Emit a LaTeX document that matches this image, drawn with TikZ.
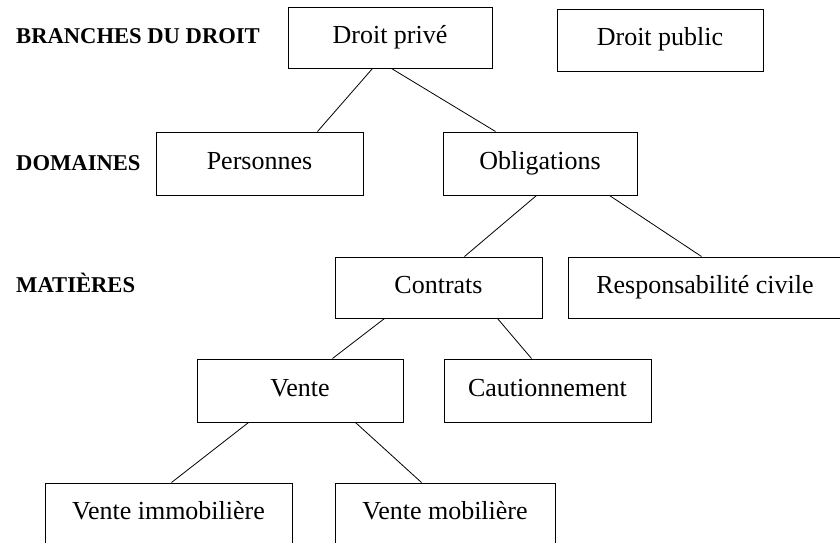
\documentclass[tikz,border=0pt]{standalone}
\usepackage{fontspec}
\setmainfont{Liberation Serif}
\begin{document}
\begin{tikzpicture}[x=1pt,y=-1pt,
  box/.style={draw,line width=1pt,inner sep=0pt,text height=18pt,text depth=7pt,
    font=\fontsize{26}{30}\selectfont},
  lvl/.style={anchor=base west,inner sep=0pt,font=\fontsize{22.6}{26}\selectfont\bfseries},
  link/.style={line width=0.8pt}]
\useasboundingbox (0,0) rectangle (840,542);
\clip (0,0) rectangle (840,542);
% level labels
\node[lvl] (l1) at (16,43) {BRANCHES DU DROIT};
\node[lvl] (l2) at (16,170) {DOMAINES};
\node[lvl] (l3) at (16,292) {MATIÈRES};
% boxes
\node[box,minimum width=204pt,minimum height=61pt] (dp) at (390,37.5) {Droit privé};
\node[box,minimum width=206pt,minimum height=62pt] (dpub) at (660,40) {Droit public};
\node[box,minimum width=207pt,minimum height=63pt] (pers) at (259.5,163.5) {Personnes};
\node[box,minimum width=194pt,minimum height=63pt] (obl) at (540,163.5) {Obligations};
\node[box,minimum width=207pt,minimum height=61pt] (con) at (438.5,287.5) {Contrats};
\node[box,minimum width=274pt,minimum height=61pt] (resp) at (705,287.5) {Responsabilité civile};
\node[box,minimum width=206pt,minimum height=63pt] (vente) at (300,390.5) {Vente};
\node[box,minimum width=207pt,minimum height=63pt] (caut) at (547.5,390.5) {Cautionnement};
\node[box,minimum width=247pt,minimum height=62pt] (vimm) at (168.5,514) {Vente immobilière};
\node[box,minimum width=220pt,minimum height=62pt] (vmob) at (445,514) {Vente mobilière};
% connectors
\draw[link] ([xshift=85pt]dp.south west) -- ([xshift=162pt]pers.north west);
\draw[link] ([xshift=104pt]dp.south west) -- ([xshift=53pt]obl.north west);
\draw[link] ([xshift=94pt]obl.south west) -- ([xshift=130pt]con.north west);
\draw[link] ([xshift=167pt]obl.south west) -- ([xshift=134pt]resp.north west);
\draw[link] ([xshift=50pt]con.south west) -- ([xshift=136pt]vente.north west);
\draw[link] ([xshift=163pt]con.south west) -- ([xshift=88pt]caut.north west);
\draw[link] ([xshift=52pt]vente.south west) -- ([xshift=127pt]vimm.north west);
\draw[link] ([xshift=159pt]vente.south west) -- ([xshift=87pt]vmob.north west);
\end{tikzpicture}
\end{document}
